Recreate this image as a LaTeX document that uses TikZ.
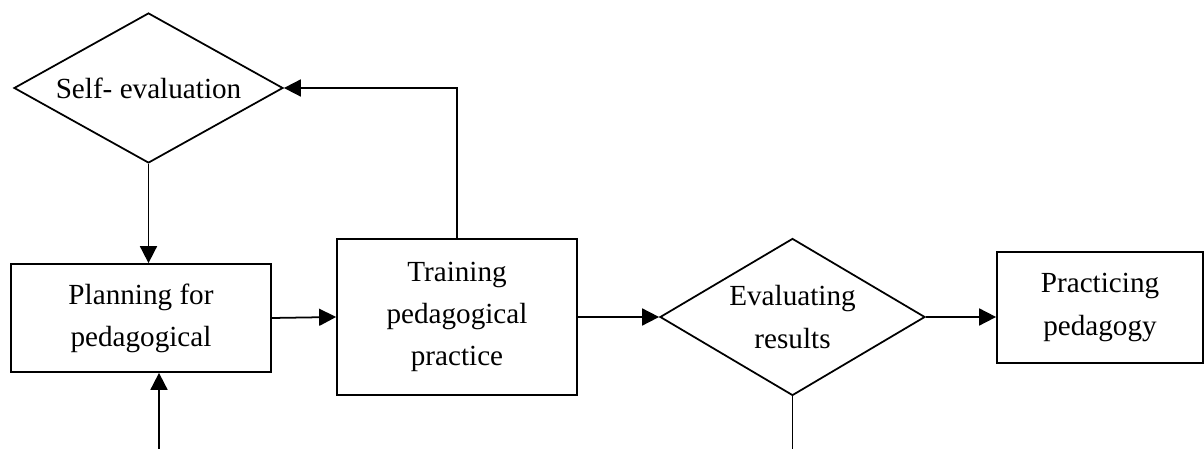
\documentclass[tikz,border=0pt]{standalone}
\usepackage{fontspec}
\setmainfont{Liberation Serif}
\usetikzlibrary{shapes.geometric,arrows.meta}

\begin{document}
\begin{tikzpicture}[line width=1pt,>={Triangle[length=0.34cm,width=0.34cm]}]
        \tikzstyle{process}=[rectangle,draw=black,align=center,inner sep=0pt,font=\fontsize{16.6}{24}\selectfont]
        \tikzstyle{decision}=[diamond,draw=black,align=center,inner sep=0pt,shape aspect=1.7,font=\fontsize{16.6}{24}\selectfont]
        \tikzstyle{edge}=[draw,->]
        \useasboundingbox (0,0) rectangle (24.08,8.98);
       \begin{scope}
        \node [decision,minimum width=5.38cm,minimum height=3cm] (self) at (2.97,7.22) {Self- evaluation};
        \node [process,minimum width=5.2cm,minimum height=2.16cm] (plan) at (2.82,2.62) {Planning for\\pedagogical};
        \node [process,minimum width=4.8cm,minimum height=3.12cm] (train) at (9.14,2.64) {Training\\pedagogical\\practice};
        \node [decision,minimum width=5.3cm,minimum height=3.14cm] (eval) at (15.85,2.64) {Evaluating\\results};
        \node [process,minimum width=4.12cm,minimum height=2.22cm] (pract) at (22.0,2.83) {Practicing\\pedagogy};
        \coordinate (in) at (3.18,0);
        \coordinate (out) at (15.85,0);

        \path[edge] (self.south) -- (self.south |- plan.north);
        \path[edge] (in) -- (in |- plan.south);
        \path[edge] (plan.east) -- (train.west);
        \path[edge] (train.north) |- (self.east);
        \path[edge] (train.east) -- (eval.west);
        \path[edge] (eval.east) -- (eval.east -| pract.west);
        \draw (eval.south) -- (out);
        \end{scope}
      \end{tikzpicture}
\end{document}
